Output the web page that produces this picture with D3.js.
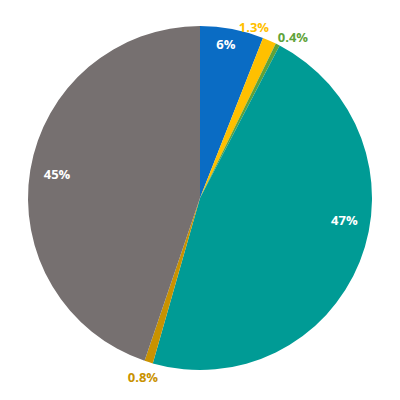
<!DOCTYPE html>
<html><head><meta charset="utf-8">
<script src="https://cdn.jsdelivr.net/npm/d3@7"></script>
<style>body{margin:0;background:#fff}svg{display:block}</style>
</head><body>
<svg id="c" width="400" height="400"></svg>
<script>
const categories = ["A","B","C","D","E","F"];
const values = [6, 1.3, 0.4, 47, 0.8, 45];
const labels = ["6%","1.3%","0.4%","47%","0.8%","45%"];
const colors = ["#0A6CC4","#FFC000","#5FA33A","#009B95","#C99200","#767070"];
const labelColors = ["#ffffff","#FFC000","#5FA33A","#ffffff","#C99200","#ffffff"];

// label layout: angle shift from slice centre (degrees) and radius (px)
const labelShift = [-1.2, -6.3, 3.1, -13.1, 0.3, 0.1];
const labelRad = [156, 179, 186, 146, 188, 145];

const svg = d3.select("#c");
const cx = 200, cy = 198, r = 172;
const g = svg.append("g").attr("transform",`translate(${cx},${cy})`);
const pie = d3.pie().sort(null).value(d=>d)(values);
const arc = d3.arc().innerRadius(0).outerRadius(r);
g.selectAll("path").data(pie).join("path")
  .attr("d",arc).attr("fill",(d,i)=>colors[i]);
g.selectAll("text").data(pie).join("text")
  .attr("transform",(d,i)=>{
    const a = (d.startAngle+d.endAngle)/2 + labelShift[i]*Math.PI/180;
    const x = Math.sin(a)*labelRad[i], y = -Math.cos(a)*labelRad[i];
    return `translate(${x},${y})`;
  })
  .attr("text-anchor","middle").attr("dominant-baseline","central")
  .attr("font-family","Open Sans, sans-serif").attr("font-weight","bold")
  .attr("font-size",13)
  .attr("fill",(d,i)=>labelColors[i])
  .text((d,i)=>labels[i]);
</script>
</body></html>
